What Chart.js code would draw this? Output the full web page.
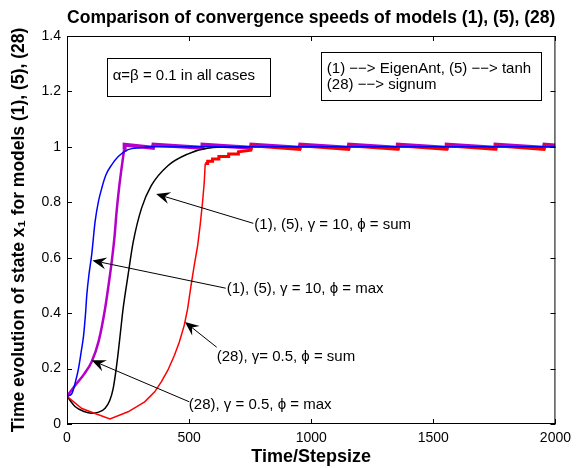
<!DOCTYPE html>
<html>
<head>
<meta charset="utf-8">
<script src="https://cdn.jsdelivr.net/npm/chart.js@4.4.1/dist/chart.umd.min.js"></script>
<style>
  html, body { margin: 0; padding: 0; background: #fff; }
  #wrap { width: 577px; height: 468px; }
</style>
</head>
<body>
<div id="wrap"><canvas id="conv-chart"></canvas></div>
<script>
// γ = 10, ϕ = max  (models 1, 5) - blue
const maxTenT = [0, 20, 34, 47, 58, 68, 76, 81, 90, 101, 115, 128, 142, 160, 183, 210, 250, 300, 350, 450, 600, 1000, 1500, 2000];
const maxTenX = [0.1, 0.11, 0.15, 0.2, 0.26, 0.32, 0.4, 0.465, 0.54, 0.61, 0.73, 0.8, 0.85, 0.9, 0.935, 0.965, 0.99, 0.997, 1.0, 1.0, 1.0, 1.0, 1.0, 1.0];

// γ = 10, ϕ = sum  (models 1, 5) - black
const sumTenT = [0, 34, 70, 101, 130, 156, 175, 189, 200, 210, 220, 230, 250, 271, 305, 345, 413, 494, 575, 700, 1000, 2000];
const sumTenX = [0.1, 0.062, 0.045, 0.039, 0.043, 0.057, 0.085, 0.128, 0.19, 0.26, 0.34, 0.418, 0.537, 0.656, 0.778, 0.86, 0.932, 0.974, 0.995, 1.0, 1.0, 1.0];

// γ = 0.5, ϕ = max  (model 28) - magenta
const maxHalfRiseT = [0, 34, 70, 101, 130, 156, 170, 183, 195, 203, 213, 223, 234];
const maxHalfRiseX = [0.1, 0.14, 0.18, 0.225, 0.3, 0.417, 0.5, 0.585, 0.68, 0.765, 0.85, 0.92, 0.99];
const maxHalfSawT = [234, 236, 352, 354, 553, 555, 753, 755, 953, 955, 1153, 1155, 1353, 1355, 1553, 1555, 1753, 1755, 1953, 1955, 2000];
const maxHalfSawX = [0.99, 1.008, 0.997, 1.008, 0.997, 1.008, 0.997, 1.008, 0.997, 1.008, 0.997, 1.008, 0.997, 1.008, 0.997, 1.008, 0.997, 1.008, 0.997, 1.008, 1.005];

// γ = 0.5, ϕ = sum  (model 28) - red
const sumHalfRiseT = [0, 61, 115, 176, 250, 318, 359, 386, 413, 440, 460, 480, 494, 508, 521, 535, 545, 555, 562, 566];
const sumHalfRiseX = [0.1, 0.056, 0.038, 0.018, 0.044, 0.08, 0.116, 0.152, 0.194, 0.248, 0.296, 0.356, 0.416, 0.5, 0.572, 0.644, 0.716, 0.8, 0.872, 0.94];
const sumHalfSawT = [566, 576, 576, 596, 596, 622, 622, 662, 662, 702, 702, 753, 755, 953, 955, 1153, 1155, 1353, 1355, 1553, 1555, 1753, 1755, 1953, 1955, 2000];
const sumHalfSawX = [0.94, 0.94, 0.948, 0.948, 0.956, 0.956, 0.965, 0.965, 0.974, 0.974, 0.982, 0.988, 1.004, 0.991, 1.004, 0.991, 1.004, 0.991, 1.004, 0.991, 1.004, 0.991, 1.004, 0.991, 1.004, 1.001];

const xTicks = [0, 500, 1000, 1500, 2000];
const yTicks = [0, 0.2, 0.4, 0.6, 0.8, 1, 1.2, 1.4];

const chartTitle = 'Comparison of convergence speeds of models (1), (5), (28)';
const xTitle = 'Time/Stepsize';
const yTitle = 'Time evolution of state x\u2081 for models (1), (5), (28)';

const boxNotes = [
    { lines: ['\u03b1=\u03b2 = 0.1 in all cases'], box: [162, 1.321, 832, 1.184], at: [187, 1.256], gap: 0 },
    { lines: ['(1) \u2212\u2212> EigenAnt, (5) \u2212\u2212> tanh', '(28) \u2212\u2212> signum'], box: [1039, 1.343, 1941, 1.17], at: [1064, 1.28], gap: 16 }
];

const arrowNotes = [
    { text: '(1), (5), \u03b3 = 10, \u03d5 = sum', at: [767, 0.718], tail: [763, 0.724], head: [365, 0.83] },
    { text: '(1), (5), \u03b3 = 10, \u03d5 = max', at: [654, 0.486], tail: [650, 0.49], head: [104, 0.59] },
    { text: '(28), \u03b3= 0.5, \u03d5 = sum', at: [613, 0.241], tail: [613, 0.277], head: [483, 0.368] },
    { text: '(28), \u03b3 = 0.5, \u03d5 = max', at: [499, 0.068], tail: [501, 0.08], head: [101, 0.23] }
];

const FONT = '"Liberation Sans", Arial, Helvetica, sans-serif';

const pts = (ts, xs) => ts.map((t, i) => ({ x: t, y: xs[i] }));

// MATLAB style frame with inward ticks, plus the text boxes and arrows
const matlabFrame = {
    id: 'matlabFrame',
    afterDatasetsDraw(chart) {
        const { ctx, chartArea: a, scales: { x, y } } = chart;
        ctx.save();
        ctx.strokeStyle = '#000';
        ctx.lineWidth = 1;
        ctx.strokeRect(a.left + 0.5, a.top + 0.5, a.right - a.left - 1, a.bottom - a.top - 1);
        ctx.beginPath();
        xTicks.forEach(t => {
            const px = Math.round(x.getPixelForValue(t)) + 0.5;
            ctx.moveTo(px, a.bottom); ctx.lineTo(px, a.bottom - 5);
            ctx.moveTo(px, a.top); ctx.lineTo(px, a.top + 5);
        });
        yTicks.forEach(v => {
            const py = Math.round(y.getPixelForValue(v)) + 0.5;
            ctx.moveTo(a.left, py); ctx.lineTo(a.left + 5, py);
            ctx.moveTo(a.right, py); ctx.lineTo(a.right - 5, py);
        });
        ctx.stroke();

        ctx.font = '15px ' + FONT;
        ctx.fillStyle = '#000';
        ctx.textBaseline = 'middle';
        ctx.textAlign = 'left';

        boxNotes.forEach(n => {
            const x0 = Math.round(x.getPixelForValue(n.box[0])) + 0.5;
            const y0 = Math.round(y.getPixelForValue(n.box[1])) + 0.5;
            const x1 = Math.round(x.getPixelForValue(n.box[2])) + 0.5;
            const y1 = Math.round(y.getPixelForValue(n.box[3])) + 0.5;
            ctx.fillStyle = '#fff';
            ctx.fillRect(x0, y0, x1 - x0, y1 - y0);
            ctx.strokeRect(x0, y0, x1 - x0, y1 - y0);
            ctx.fillStyle = '#000';
            n.lines.forEach((l, i) => {
                ctx.fillText(l, x.getPixelForValue(n.at[0]), y.getPixelForValue(n.at[1]) + i * n.gap);
            });
        });

        arrowNotes.forEach(n => {
            const tx = x.getPixelForValue(n.tail[0]), ty = y.getPixelForValue(n.tail[1]);
            const hx = x.getPixelForValue(n.head[0]), hy = y.getPixelForValue(n.head[1]);
            const ang = Math.atan2(hy - ty, hx - tx);
            const len = 14, half = 6, notch = 9;
            ctx.beginPath();
            ctx.moveTo(tx, ty);
            ctx.lineTo(hx - Math.cos(ang) * notch, hy - Math.sin(ang) * notch);
            ctx.stroke();
            ctx.beginPath();
            ctx.moveTo(hx, hy);
            ctx.lineTo(hx - Math.cos(ang) * len - Math.sin(ang) * half, hy - Math.sin(ang) * len + Math.cos(ang) * half);
            ctx.lineTo(hx - Math.cos(ang) * notch, hy - Math.sin(ang) * notch);
            ctx.lineTo(hx - Math.cos(ang) * len + Math.sin(ang) * half, hy - Math.sin(ang) * len - Math.cos(ang) * half);
            ctx.closePath();
            ctx.fill();
            ctx.fillText(n.text, x.getPixelForValue(n.at[0]), y.getPixelForValue(n.at[1]));
        });
        ctx.restore();
    }
};

new Chart(document.getElementById('conv-chart'), {
    type: 'line',
    data: {
        datasets: [
            { label: 'max10', data: pts(maxTenT, maxTenX), borderColor: '#0000ff', borderWidth: 1.5, cubicInterpolationMode: 'monotone' },
            { label: 'sumHalfSaw', data: pts(sumHalfSawT, sumHalfSawX), borderColor: '#ff0000', borderWidth: 3, tension: 0 },
            { label: 'sumHalfRise', data: pts(sumHalfRiseT, sumHalfRiseX), borderColor: '#ff0000', borderWidth: 1.5, tension: 0 },
            { label: 'sum10', data: pts(sumTenT, sumTenX), borderColor: '#000000', borderWidth: 1.5, cubicInterpolationMode: 'monotone' },
            { label: 'maxHalfSaw', data: pts(maxHalfSawT, maxHalfSawX), borderColor: '#b400c8', borderWidth: 4, tension: 0 },
            { label: 'maxHalfRise', data: pts(maxHalfRiseT, maxHalfRiseX), borderColor: '#b400c8', borderWidth: 2.5, cubicInterpolationMode: 'monotone' }
        ]
    },
    options: {
        responsive: true,
        maintainAspectRatio: false,
        animation: false,
        elements: { point: { radius: 0 } },
        layout: { padding: { left: 0, right: 17, top: 0, bottom: 0 } },
        plugins: {
            legend: { display: false },
            tooltip: { enabled: false },
            title: {
                display: true,
                fullSize: false,
                text: chartTitle,
                color: '#000',
                font: { family: FONT, size: 18, weight: 'bold' },
                padding: { top: 7.5, bottom: 6.9 }
            }
        },
        scales: {
            x: {
                type: 'linear',
                min: 0,
                max: 2000,
                afterBuildTicks: s => { s.ticks = xTicks.map(v => ({ value: v })); },
                afterFit: s => { s.height = 44; },
                grid: { display: false, drawTicks: false },
                border: { display: false },
                ticks: { color: '#000', padding: 6, maxRotation: 0, font: { family: FONT, size: 14 }, callback: v => String(v) },
                title: { display: true, text: xTitle, color: '#000', padding: { top: 0, bottom: 0 }, font: { family: FONT, size: 18, weight: 'bold' } }
            },
            y: {
                type: 'linear',
                min: 0,
                max: 1.4,
                afterBuildTicks: s => { s.ticks = yTicks.map(v => ({ value: v })); },
                afterFit: s => { s.width = 67; },
                grid: { display: false, drawTicks: false },
                border: { display: false },
                ticks: { color: '#000', padding: 6, font: { family: FONT, size: 14 }, callback: v => String(+v.toFixed(1)) },
                title: { display: true, text: yTitle, color: '#000', padding: { top: 8.5, bottom: 8.5 }, font: { family: FONT, size: 17.5, weight: 'bold' } }
            }
        }
    },
    plugins: [matlabFrame]
});
</script>
</body>
</html>
